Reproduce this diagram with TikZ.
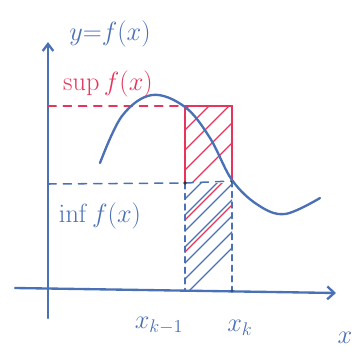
\documentclass[tikz,border=0pt]{standalone}
\usetikzlibrary{arrows.meta}
\definecolor{penblue}{RGB}{74,112,182}
\definecolor{penred}{RGB}{230,52,92}
\tikzset{
  pen/.style={penblue, line width=2pt, line cap=round},
  redpen/.style={penred, line width=1.2pt, line cap=round},
  hatchline/.style={line width=1.1pt, line cap=round},
  label/.style={font=\LARGE, scale=1.3, inner sep=0pt},
}

\begin{document}
\begin{tikzpicture}[x=0.03cm, y=-0.03cm]
  \useasboundingbox (0,0) rectangle (360,358);
  % corners of the strip
  \coordinate (kmtop) at (185,106);
  \coordinate (ktop) at (232,106);
  \coordinate (kminf) at (185,183);
  \coordinate (kinf) at (232,181);
  \coordinate (kmax) at (185,290);
  \coordinate (kax) at (232,291);

  % hatching
  \begin{scope}
    \clip (kmtop) rectangle (kinf);
    \foreach \i in {0,...,6}
      \draw[hatchline, penred] (175,200-\i*20) -- ++(70,-70);
  \end{scope}
  \begin{scope}
    \clip (kminf) rectangle (kax);
    \foreach \i in {0,...,8}
      \draw[hatchline, penblue] (175,305-\i*16) -- ++(70,-70);
    \foreach \i in {3,5}
      \draw[hatchline, penred] (180,305-\i*16) -- ++(70,-70);
  \end{scope}

  % axes
  \draw[pen, -{Straight Barb[length=6pt, width=9pt]}] (48,318) -- (48,42);
  \draw[pen, -{Straight Barb[length=6pt, width=11pt]}] (15,288) -- (336,293);

  % sup / inf levels
  \draw[redpen, dash pattern=on 7pt off 6pt] (48,106) -- (kmtop);
  \draw[redpen] (kminf) -- (kmtop) -- (ktop) -- (kinf);
  \draw[pen, line width=1.3pt, dash pattern=on 7pt off 6pt] (48,184) -- (kminf) -- (kinf);
  \draw[pen, line width=1.3pt, dash pattern=on 5pt off 4pt] (kminf) -- (kmax);
  \draw[pen, line width=1.3pt, dash pattern=on 5pt off 4pt] (kinf) -- (kax);
  \fill[black!80] (kminf) circle (1.6pt) (kinf) circle (1.6pt);
  \fill[penblue!70!black] (kax) circle (1.4pt);

  % the function
  \draw[pen] plot[smooth, tension=0.6] coordinates {(100,163) (122,116) (152,95) (185,107) (210,138) (232,180) (258,205) (285,214) (320,198)};

  % labels
  \node[label, penblue] (fx) at (110,34) {$y{=}f(x)$};
  \node[label, penred] (sup) at (108,84) {$\sup f(x)$};
  \node[label, penblue] (inf) at (100,216) {$\inf f(x)$};
  \node[label, penblue] (xkm) at (159,326) {$x_{k-1}$};
  \node[label, penblue] (xk) at (240,328) {$x_k$};
  \node[label, penblue] (x) at (345,338) {$x$};
\end{tikzpicture}
\end{document}
